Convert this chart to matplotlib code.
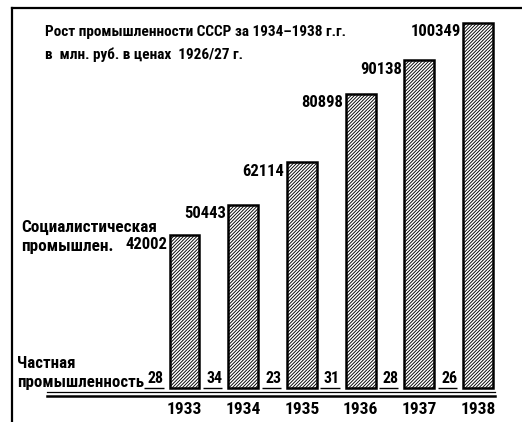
import matplotlib
matplotlib.use("Agg")
import matplotlib.pyplot as plt
from matplotlib import font_manager
from matplotlib.lines import Line2D

# prefer a narrow face for the print-style lettering
_available = {f.name for f in font_manager.fontManager.ttflist}
_preferred = ['Roboto Condensed', 'Liberation Sans Narrow', 'Open Sans Condensed',
              'DejaVu Sans Condensed', 'Noto Sans CJK SC', 'Liberation Sans']
FONT = next((n for n in _preferred if n in _available), 'DejaVu Sans')
plt.rcParams['font.family'] = [FONT, 'DejaVu Sans']
plt.rcParams['hatch.linewidth'] = 0.65

years = ["1933", "1934", "1935", "1936", "1937", "1938"]
socialist = [42002, 50443, 62114, 80898, 90138, 100349]
private = [28, 34, 23, 31, 28, 26]

W, H = 522, 422
fig = plt.figure(figsize=(W / 100, H / 100), dpi=100)
ax = fig.add_axes([0, 0, 1, 1])
ax.set_axis_off()

# pixel <-> data mapping for the axes
X0, DX = 184.5, 58.7      # first bar centre, bar spacing (px)
Y0, KY = 388.0, 274.9     # baseline (px from top), units per px
ax.set_xlim((0 - X0) / DX, (W - X0) / DX)
ax.set_ylim((Y0 - H) * KY, Y0 * KY)

pos = list(range(len(years)))
bw = 0.51
pw = 0.33
poff = bw / 2 + 0.1 + pw / 2

fontkw = dict(fontweight='bold', color='black')

ax.bar(pos, socialist, width=bw, color='white', edgecolor='black',
       linewidth=1.8, hatch='//////////', zorder=3)
ax.bar([p - poff for p in pos], private, width=pw, color='black',
       edgecolor='black', linewidth=1.0, zorder=3)

for p, v in zip(pos, socialist):
    ax.text(p - bw / 2 - 0.04, v - 1.5 * KY, str(v), ha='right', va='top',
            fontsize=12, **fontkw)

for p, v in zip(pos, private):
    ax.text(p - bw / 2 - 0.1, v + 1.5 * KY, str(v), ha='right', va='bottom',
            fontsize=11.5, **fontkw)

for p, y in zip(pos, years):
    ax.text(p, (Y0 - 410) * KY, y, ha='center', va='center',
            fontsize=12.5, **fontkw)

def ftext(x, y, s, **kw):
    fig.text(x / W, 1 - y / H, s, va='center', ha='left', **kw)

ftext(45, 32, "Рост промышленности СССР за 1934–1938 г.г.", fontsize=11, **fontkw)
ftext(45, 55, "в  млн. руб. в ценах  1926/27 г.", fontsize=11, **fontkw)
ftext(21, 227, "Социалистическая", fontsize=12.3, **fontkw)
ftext(21, 246, "промышлен.", fontsize=12.3, **fontkw)
ftext(17, 363, "Частная", fontsize=12.2, **fontkw)
ftext(17, 382, "промышленность", fontsize=12.2, **fontkw)

# double base line
fig.add_artist(Line2D([47 / W, 495 / W], [1 - 392 / H, 1 - 392 / H],
                      color='black', linewidth=0.9))
fig.add_artist(Line2D([47 / W, 495 / W], [1 - 395.5 / H, 1 - 395.5 / H],
                      color='black', linewidth=1.8))

# frame: top and left rules
fig.add_artist(Line2D([12 / W, 1.0], [1 - 8 / H, 1 - 8 / H],
                      color='black', linewidth=1.6))
fig.add_artist(Line2D([12 / W, 12 / W], [0, 1 - 8 / H],
                      color='black', linewidth=1.6))

fig.savefig("out.png", dpi=100)
